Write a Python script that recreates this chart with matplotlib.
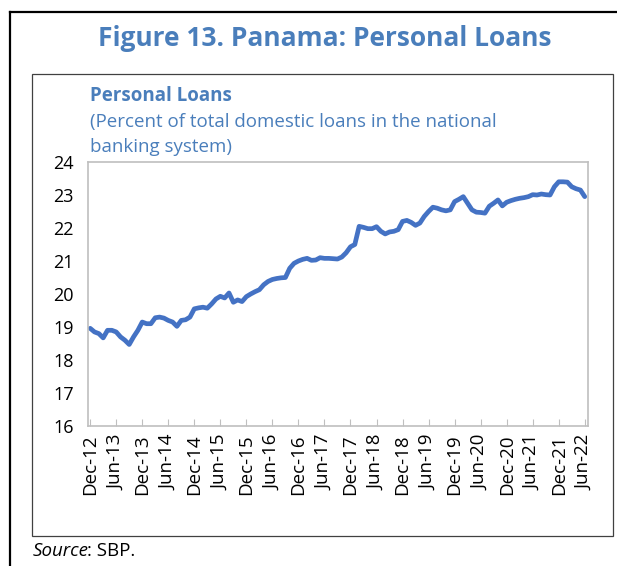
import matplotlib.pyplot as plt
from matplotlib.lines import Line2D
from matplotlib.patches import Rectangle

plt.rcParams['font.family'] = ['Open Sans', 'DejaVu Sans']

# monthly share of personal loans, Dec-12 .. Jun-22
loans = [
    18.96, 18.85, 18.80, 18.67, 18.90, 18.90, 18.85, 18.70, 18.60, 18.47,
    18.70, 18.90, 19.15, 19.10, 19.10, 19.28, 19.30, 19.27, 19.20, 19.15,
    19.02, 19.20, 19.22, 19.30, 19.55, 19.58, 19.60, 19.57, 19.70, 19.85,
    19.93, 19.88, 20.03, 19.75, 19.82, 19.77, 19.92, 20.00, 20.07, 20.13,
    20.28, 20.38, 20.44, 20.47, 20.49, 20.50, 20.78, 20.93, 21.00, 21.05,
    21.08, 21.02, 21.03, 21.10, 21.08, 21.08, 21.07, 21.06, 21.12, 21.25,
    21.43, 21.50, 22.05, 22.02, 21.98, 21.98, 22.04, 21.90, 21.82, 21.88,
    21.90, 21.95, 22.20, 22.23, 22.17, 22.08, 22.15, 22.35, 22.50, 22.63,
    22.60, 22.55, 22.52, 22.55, 22.80, 22.87, 22.95, 22.75, 22.55, 22.48,
    22.47, 22.45, 22.66, 22.75, 22.85, 22.67, 22.78, 22.83, 22.87, 22.90,
    22.92, 22.95, 23.01, 23.00, 23.03, 23.01, 23.00, 23.25, 23.40, 23.40,
    23.39, 23.25, 23.19, 23.15, 22.95,
]
tick_labels = ['Dec-12', 'Jun-13', 'Dec-13', 'Jun-14', 'Dec-14', 'Jun-15', 'Dec-15',
               'Jun-16', 'Dec-16', 'Jun-17', 'Dec-17', 'Jun-18', 'Dec-18', 'Jun-19',
               'Dec-19', 'Jun-20', 'Dec-20', 'Jun-21', 'Dec-21', 'Jun-22']
yticks = [16, 17, 18, 19, 20, 21, 22, 23, 24]

blue = '#4A7EBB'
W, H = 617, 566
fig = plt.figure(figsize=(W / 100, H / 100), dpi=100)

# outer frame (cut off at right and bottom)
fig.add_artist(Line2D([10 / W, 10 / W], [0, 1 - 12 / H], color='black', lw=1.6))
fig.add_artist(Line2D([10 / W, 1], [1 - 12 / H, 1 - 12 / H], color='black', lw=1.6))
# inner chart box
fig.add_artist(Rectangle((32 / W, 1 - 536 / H), (613 - 32) / W, (536 - 74) / H,
                         fill=False, ec='#404040', lw=0.9))

fig.text(325 / W, 1 - 38 / H, 'Figure 13. Panama: Personal Loans', color=blue,
         fontsize=19, fontweight='bold', ha='center', va='center')
fig.text(90 / W, 1 - 96 / H, 'Personal Loans', color=blue, fontsize=13.5,
         fontweight='bold', ha='left', va='center')
fig.text(90 / W, 1 - 122 / H, '(Percent of total domestic loans in the national',
         color=blue, fontsize=13.5, ha='left', va='center')
fig.text(90 / W, 1 - 147 / H, 'banking system)', color=blue, fontsize=13.5,
         ha='left', va='center')
fig.text(33 / W, 1 - 551 / H, 'Source', style='italic', fontsize=13.5,
         ha='left', va='center')
fig.text(87 / W, 1 - 551 / H, ': SBP.', fontsize=13.5, ha='left', va='center')

ax = fig.add_axes([88 / W, 1 - 426 / H, 500 / W, 264 / H])
ax.plot(range(len(loans)), loans, color='#4472C4', lw=3.4, solid_capstyle='round')
ax.set_xlim(-0.5, 114.75)
ax.set_ylim(16, 24)
ax.set_yticks(yticks)
ax.set_xticks(range(0, 115, 6))
ax.set_xticklabels(tick_labels, rotation=90)
ax.tick_params(axis='both', direction='in', length=5, color='#BFBFBF',
               labelsize=13)
ax.tick_params(axis='y', length=0, pad=10)
ax.tick_params(axis='x', pad=6, labelsize=13.5)
for s in ax.spines.values():
    s.set_color('#BFBFBF')
    s.set_linewidth(1.2)

fig.savefig('out.png', dpi=100)
